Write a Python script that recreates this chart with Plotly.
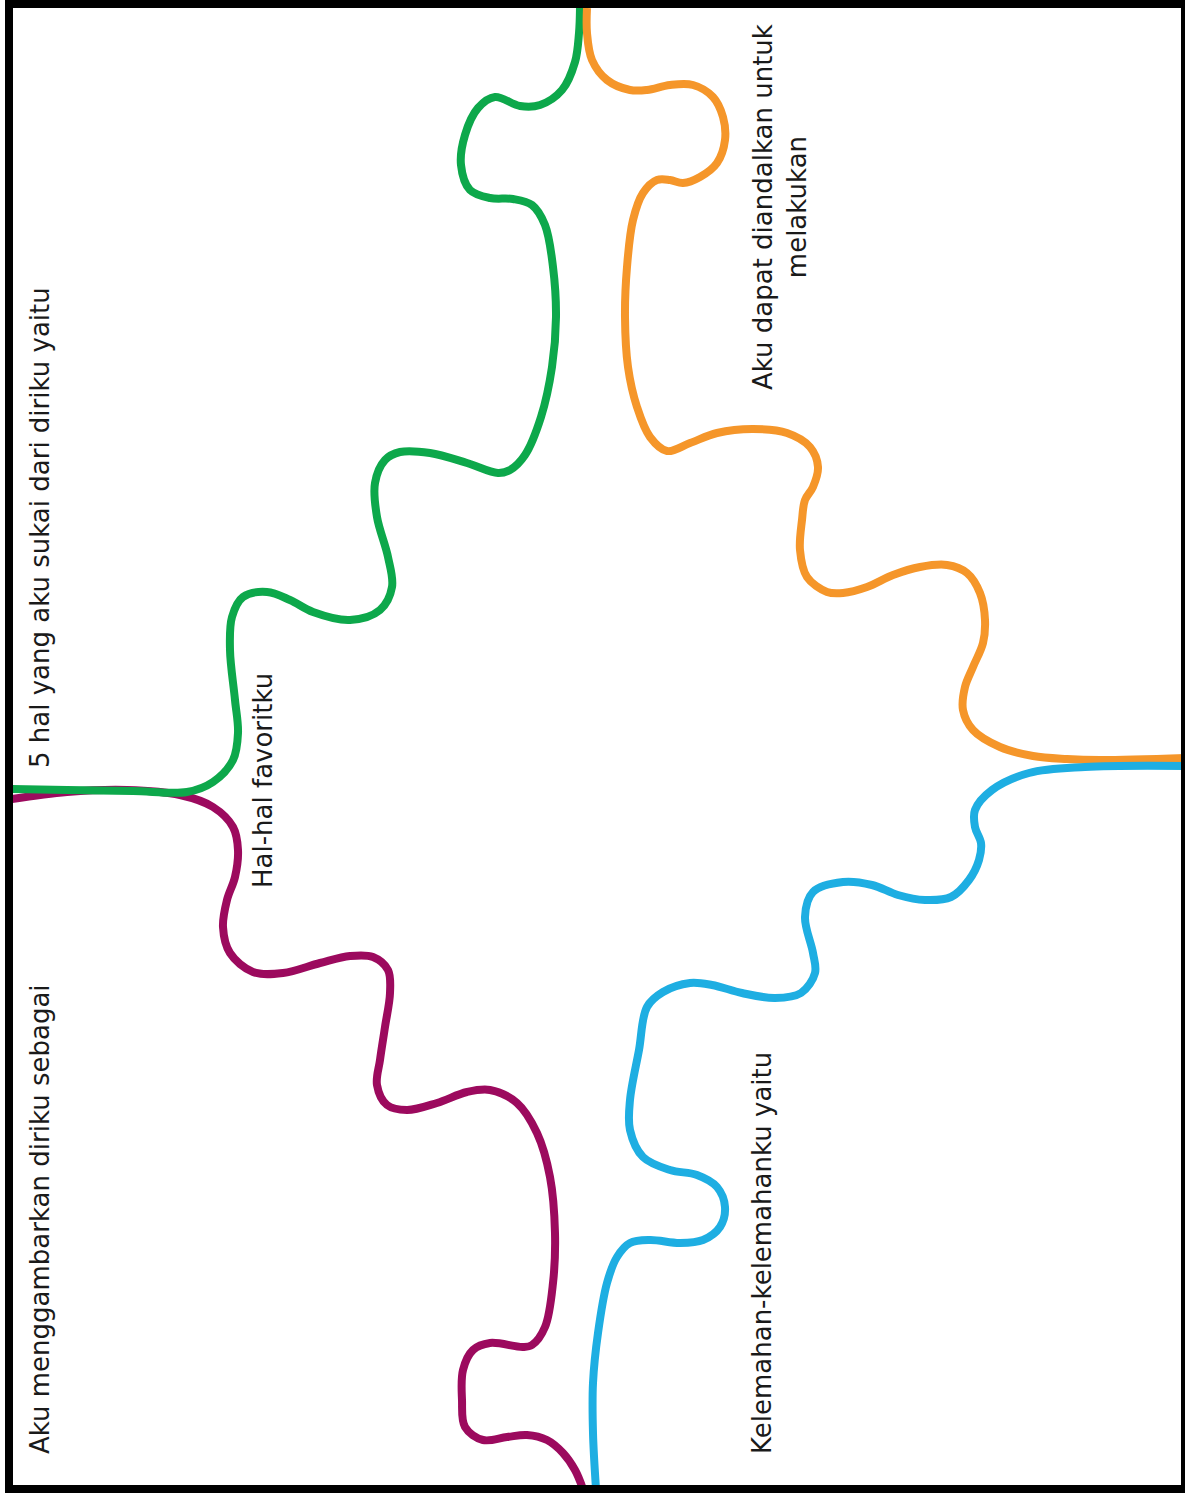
import plotly.graph_objects as go

# Curve paths (page pixel coordinates, y downward)
green_x = [580, 579, 575, 562, 540, 520, 495, 478, 465, 461, 470, 490, 513, 532, 545, 553, 556, 552, 541, 525, 510, 498,
           467, 430, 400, 385, 375, 377, 388, 392, 380, 350, 313, 290, 267, 243, 232, 230, 235, 238, 233, 213, 187, 133, 67, 12]
green_y = [8, 33, 62, 90, 105, 106, 97, 108, 135, 165, 190, 198, 199, 205, 225, 267, 317, 367, 417, 455, 470, 473,
           463, 453, 452, 460, 483, 517, 557, 587, 610, 620, 612, 600, 592, 597, 617, 650, 700, 733, 760, 782, 792, 791, 790, 789]

purple_x = [12, 67, 127, 180, 213, 233, 238, 235, 227, 223, 230, 253, 283, 320, 350, 373, 388, 390, 385, 380, 377, 387,
            407, 437, 467, 490, 517, 537, 550, 555, 553, 545, 532, 523, 490, 473, 463, 462, 465, 483, 507, 527, 547, 563, 575, 583]
purple_y = [799, 792, 790, 795, 807, 827, 850, 877, 900, 927, 953, 972, 973, 963, 956, 957, 970, 993, 1027, 1060, 1085, 1105,
            1110, 1103, 1092, 1090, 1103, 1133, 1177, 1233, 1283, 1327, 1345, 1347, 1343, 1350, 1370, 1400, 1427, 1440, 1437, 1435, 1440, 1453, 1470, 1489]

orange_x = [587, 587, 592, 607, 630, 647, 670, 693, 713, 723, 725, 717, 700, 683, 670, 657, 643, 633, 627, 625, 628, 637,
            650, 667, 690, 717, 753, 787, 810, 818, 813, 805, 802, 800, 807, 827, 843, 867, 893, 920, 947, 967, 980, 985,
            983, 973, 965, 963, 973, 1000, 1033, 1067, 1100, 1185]
orange_y = [8, 33, 60, 80, 90, 90, 85, 85, 97, 117, 140, 163, 177, 183, 180, 180, 193, 220, 267, 317, 367, 407,
            437, 451, 443, 433, 429, 433, 447, 467, 487, 500, 520, 550, 577, 592, 593, 587, 575, 567, 565, 573, 593, 620,
            643, 667, 687, 710, 730, 747, 756, 759, 760, 758]

blue_x = [1185, 1085, 1029, 992, 975, 975, 981, 979, 969, 951, 925, 898, 872, 843, 813, 805, 813, 815, 801, 775, 742, 712,
          690, 663, 647, 639, 630, 630, 643, 670, 697, 717, 725, 720, 703, 680, 650, 630, 617, 607, 598, 593, 593, 596]
blue_y = [766, 767, 773, 790, 810, 827, 843, 860, 880, 897, 900, 895, 885, 882, 892, 917, 953, 973, 993, 998, 993, 985,
          983, 992, 1007, 1050, 1100, 1130, 1157, 1170, 1175, 1187, 1207, 1227, 1240, 1243, 1240, 1243, 1257, 1283, 1333, 1383, 1433, 1489]

# Labels
label_texts = ["5 hal yang aku sukai dari diriku yaitu",
               "Aku menggambarkan diriku sebagai",
               "Hal-hal favoritku",
               "Aku dapat diandalkan untuk<br>melakukan",
               "Kelemahan-kelemahanku yaitu"]
label_x = [40, 40, 263, 780, 762]
label_y = [528, 1219, 781, 207, 1253]

W, H = 1185, 1493

fig = go.Figure()
for xs, ys, col in [(purple_x, purple_y, "#9C0A5E"),
                    (green_x, green_y, "#0DA84B"),
                    (orange_x, orange_y, "#F5962A"),
                    (blue_x, blue_y, "#1EAEE2")]:
    fig.add_trace(go.Scatter(x=xs, y=ys, mode="lines",
                             line=dict(color=col, width=8, shape="spline", smoothing=1.0),
                             hoverinfo="skip", showlegend=False))

for t, x, y in zip(label_texts, label_x, label_y):
    fig.add_annotation(x=x, y=y, xref="x", yref="y", text=t, showarrow=False,
                       textangle=-90, xanchor="center", yanchor="middle", align="center",
                       font=dict(family="DejaVu Sans", size=26, color="#1a1a1a"))

# Page border
fig.add_shape(type="rect", xref="x", yref="y", x0=9, y0=4, x1=W, y1=H - 4,
              line=dict(color="black", width=8), fillcolor="rgba(0,0,0,0)", layer="above")

fig.update_layout(width=W, height=H, margin=dict(l=0, r=0, t=0, b=0),
                  paper_bgcolor="white", plot_bgcolor="white",
                  xaxis=dict(range=[0, W], visible=False, fixedrange=True),
                  yaxis=dict(range=[H, 0], visible=False, fixedrange=True))

fig.write_html("out.html",
               config={"displayModeBar": False},
               post_script="document.body.style.margin='0';document.body.style.overflow='hidden';")
